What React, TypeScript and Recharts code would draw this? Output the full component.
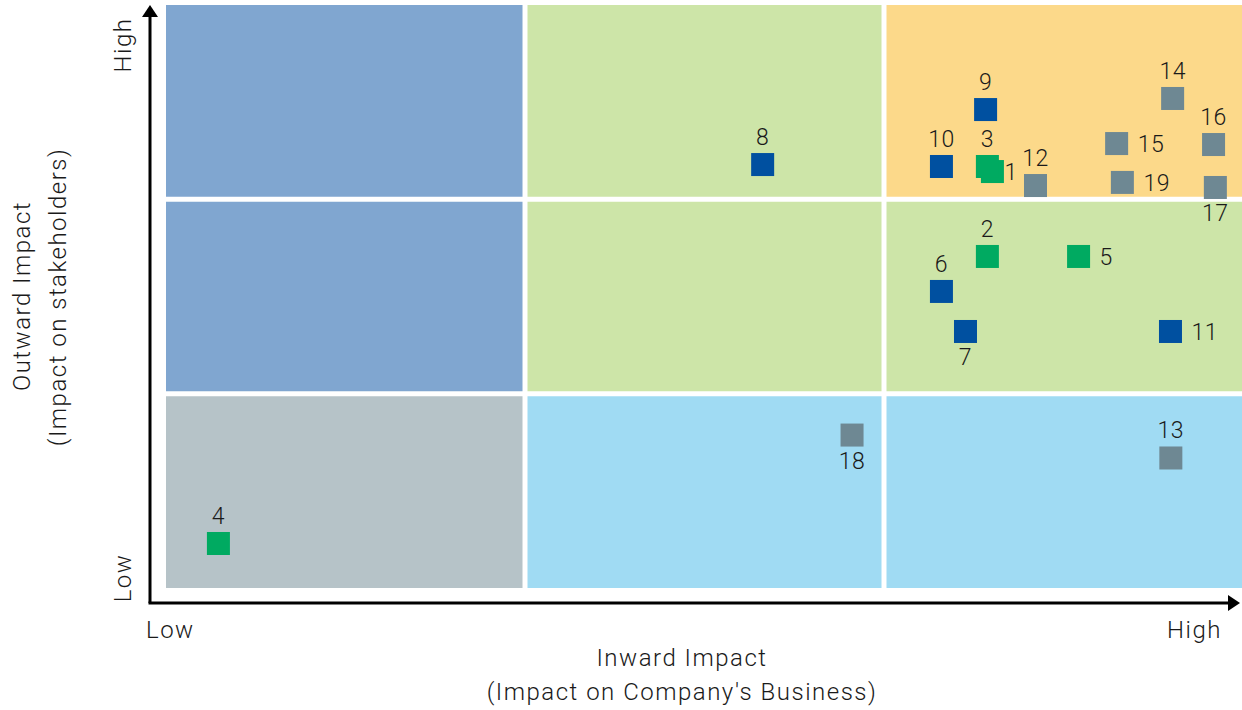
import React from "react";
import { ReferenceArea, Scatter, ScatterChart, XAxis, YAxis } from "recharts";

// topics, positions on a 0..3 grid (inward impact, outward impact)
const ids = ["1", "2", "3", "4", "5", "6", "7", "8", "9", "10", "11", "12", "13", "14", "15", "16", "17", "18", "19"];
const inward = [2.302, 2.288, 2.288, 0.146, 2.542, 2.16, 2.227, 1.662, 2.283, 2.16, 2.798, 2.422, 2.799, 2.804, 2.648, 2.918, 2.923, 1.911, 2.664];
const outward = [2.143, 1.706, 2.169, 0.229, 1.706, 1.526, 1.32, 2.179, 2.462, 2.169, 1.32, 2.071, 0.669, 2.519, 2.287, 2.282, 2.061, 0.787, 2.087];
const groups = ["env", "env", "env", "env", "env", "gov", "gov", "gov", "gov", "gov", "gov", "soc", "soc", "soc", "soc", "soc", "soc", "soc", "soc"];
const labelSide = ["right", "top", "top", "top", "right", "top", "bottom", "top", "top", "top", "right", "top", "top", "top", "right", "top", "bottom", "bottom", "right"];

const groupColors: Record<string, string> = { env: "#00aa61", gov: "#0050a0", soc: "#6e8893" };

// matrix cells, rows from bottom to top
const cellColors = [
  ["#b6c3c8", "#a0dbf3", "#a0dbf3"],
  ["#80a6d0", "#cde5a8", "#cde5a8"],
  ["#80a6d0", "#cde5a8", "#fcd98a"],
];

const W = 1242;
const H = 710;
const margin = { top: 5, right: 7, bottom: 122, left: 166 };
const plotW = W + 8 - margin.left - margin.right;
const plotH = H - margin.top - margin.bottom;
const gx = 2.5 * 3 / plotW;
const gy = 2.5 * 3 / plotH;
const font = "Roboto, 'Noto Sans', sans-serif";

const points = ids.map((id, i) => ({ id, x: inward[i], y: outward[i], group: groups[i], side: labelSide[i] }));

function Marker(props: any) {
  const { cx, cy, payload } = props;
  const s = 23;
  let tx = cx;
  let ty = cy - 19.5;
  let anchor: "middle" | "start" = "middle";
  if (payload.side === "right") {
    tx = cx + (payload.id === "1" ? 12 : 21);
    ty = cy + 8.5;
    anchor = "start";
  } else if (payload.side === "bottom") {
    ty = cy + 34;
  }
  return (
    <g>
      <rect x={cx - s / 2} y={cy - s / 2} width={s} height={s} fill={groupColors[payload.group]} />
      <text x={tx} y={ty} textAnchor={anchor} fontSize={23} fontWeight={300} fontFamily={font} fill="#1a1a1a" letterSpacing={0.5}>
        {payload.id}
      </text>
    </g>
  );
}

function AxesDecor() {
  const ax = 150;
  const ay = 603;
  const txt = { fontSize: 24, fontWeight: 300, fontFamily: font, fill: "#1a1a1a", letterSpacing: 1.5 } as const;
  return (
    <g>
      <line x1={ax} y1={ay} x2={ax} y2={14} stroke="#000" strokeWidth={3} />
      <path d={`M${ax - 8},17 L${ax},5 L${ax + 8},17 Z`} fill="#000" />
      <line x1={ax - 1.5} y1={ay} x2={1230} y2={ay} stroke="#000" strokeWidth={3} />
      <path d={`M1228,${ay - 8} L1240,${ay} L1228,${ay + 8} Z`} fill="#000" />
      <text {...txt} x={131} y={45} textAnchor="middle" transform="rotate(-90, 131, 45)">High</text>
      <text {...txt} x={131} y={578} textAnchor="middle" transform="rotate(-90, 131, 578)">Low</text>
      <text {...txt} x={146} y={638} textAnchor="start">Low</text>
      <text {...txt} x={1222} y={638} textAnchor="end">High</text>
      <text {...txt} x={682} y={666} textAnchor="middle">Inward Impact</text>
      <text {...txt} x={682} y={700} textAnchor="middle">(Impact on Company's Business)</text>
      <text {...txt} x={30} y={296} textAnchor="middle" transform="rotate(-90, 30, 296)">Outward Impact</text>
      <text {...txt} x={66} y={297} textAnchor="middle" transform="rotate(-90, 66, 297)">(Impact on stakeholders)</text>
    </g>
  );
}

export default function App() {
  return (
    <div style={{ position: "fixed", left: 0, top: 0, width: W, height: H, overflow: "hidden", background: "#fff" }}>
      <ScatterChart width={W + 8} height={H} margin={margin}>
        <XAxis type="number" dataKey="x" domain={[0, 3]} hide allowDataOverflow />
        <YAxis type="number" dataKey="y" domain={[0, 3]} hide allowDataOverflow />
        {cellColors.map((row, r) =>
          row.map((c, col) => (
            <ReferenceArea
              key={`${r}-${col}`}
              x1={col === 0 ? 0 : col + gx}
              x2={col === 2 ? 3 : col + 1 - gx}
              y1={r === 0 ? 0 : r + gy}
              y2={r === 2 ? 3 : r + 1 - gy}
              fill={c}
              fillOpacity={1}
              stroke="none"
              ifOverflow="visible"
            />
          ))
        )}
        <AxesDecor />
        <Scatter data={points} shape={<Marker />} isAnimationActive={false} />
      </ScatterChart>
    </div>
  );
}
